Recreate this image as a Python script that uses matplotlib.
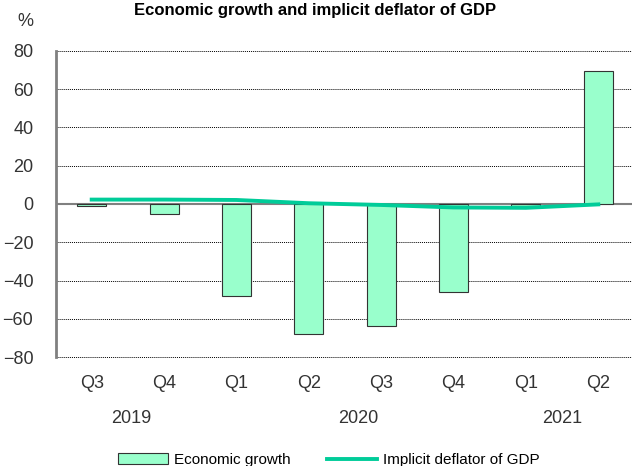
import numpy as np
import matplotlib
matplotlib.use("Agg")
from matplotlib import pyplot as plt

plt.rcParams['font.family'] = ['Liberation Sans Narrow', 'Liberation Sans', 'DejaVu Sans']

quarters = ["Q3", "Q4", "Q1", "Q2", "Q3", "Q4", "Q1", "Q2"]
years = ["2019", "2020", "2021"]
year_pos = [0.54, 3.68, 6.5]
growth = [-1.1, -5.2, -48.1, -67.7, -63.8, -46.1, -0.8, 69.5]
deflator = [2.3, 2.3, 2.1, 0.4, -0.5, -1.8, -2.0, -0.2]

x = np.arange(len(quarters))

fig = plt.figure(figsize=(6.32, 4.66), dpi=100)
ax = fig.add_axes([55.5 / 632, 1 - 357.3 / 466, 579 / 632, 306.6 / 466])

bars = ax.bar(x, growth, width=0.4, color="#99ffcc", edgecolor="#333333",
              linewidth=0.8, label="Economic growth", zorder=3)
line, = ax.plot(x, deflator, color="#00cc99", linewidth=2.8,
                label="Implicit deflator of GDP", zorder=4)

ax.set_xlim(-0.5, len(quarters) - 0.5)
ax.set_ylim(-80, 80)
ax.set_yticks(np.arange(-80, 81, 20))
ax.set_xticks(x)
ax.set_xticklabels(quarters)

for yv in np.arange(-80, 81, 20):
    if yv == 0:
        continue
    ax.axhline(yv, color="black", linestyle=(0, (1, 1)), linewidth=0.7,
               zorder=1, clip_on=False)
ax.axhline(0, color="#808080", linewidth=1.5, zorder=2)

for s in ["top", "right", "bottom"]:
    ax.spines[s].set_visible(False)
ax.spines["left"].set_color("#808080")
ax.spines["left"].set_linewidth(2)

ax.tick_params(axis="y", length=0, pad=16, labelsize=13, colors="#333333")
ax.tick_params(axis="x", length=0, pad=13, labelsize=13, colors="#333333")

for pos, yr in zip(year_pos, years):
    ax.text(pos, -0.2, yr, transform=ax.get_xaxis_transform(),
            ha="center", va="center", fontsize=13, color="#333333")

fig.text(315 / 632, 1 - 10 / 466, "Economic growth and implicit deflator of GDP",
         ha="center", va="center", fontsize=12, fontweight="bold")
fig.text(25 / 632, 1 - 22 / 466, "%", ha="center", va="center",
         fontsize=13, color="#333333")

fig.legend(handles=[bars, line], loc="center",
           bbox_to_anchor=(329 / 632, 1 - 460 / 466), ncol=2,
           frameon=False, fontsize=11, handlelength=3.3, handletextpad=0.4,
           columnspacing=2.35)

fig.savefig("out.png", dpi=100)
